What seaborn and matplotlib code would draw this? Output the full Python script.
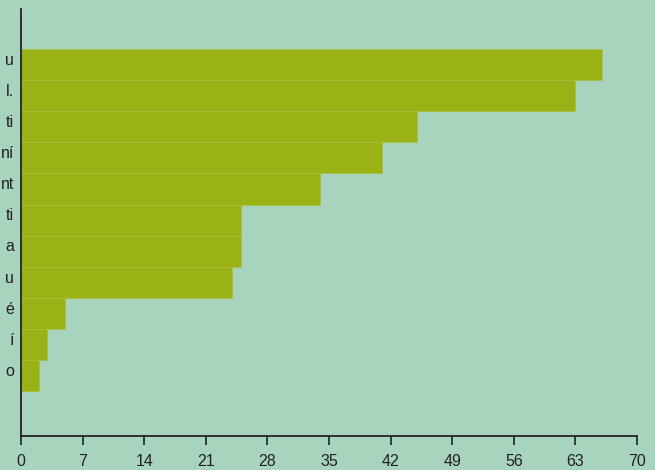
import pandas as pd
import matplotlib.pyplot as plt
import seaborn as sns

# tick labels only show their last letters in the reference (cut off at the left edge)
kategorie = ["u", "l.", "ti", "ní", "nt", "ti", "a", "u", "é", "í", "o"]
hodnoty = [66, 63, 45, 41, 34, 25, 25, 24, 5, 3, 2]
x_ticks = list(range(0, 71, 7))

sns.set_theme(style="white")
plt.rcParams["font.family"] = ["Liberation Sans", "DejaVu Sans"]

df = pd.DataFrame({"kategorie": range(len(kategorie)), "hodnota": hodnoty})

fig = plt.figure(figsize=(6.55, 4.70), dpi=100, facecolor="#a8d3bc")
ax = fig.add_axes([21 / 655, 34 / 470, 616 / 655, 427 / 470])
ax.set_facecolor("#a8d3bc")

sns.barplot(data=df, x="hodnota", y="kategorie", orient="h", width=1.0,
            color="#9bb216", saturation=1, edgecolor="#acc03e", linewidth=0.5, ax=ax)

ax.set_xlim(0, 70)
ax.set_ylim(11.93, -1.78)
ax.set_xticks(x_ticks)
ax.set_xticklabels([str(t) for t in x_ticks], fontsize=11.5, color="#222222")
# labels sit a little above the bar centres in the reference
ax.set_yticks([i - 0.19 for i in range(len(kategorie))])
ax.set_yticklabels(kategorie, fontsize=11.5, color="#222222")
ax.set_xlabel("")
ax.set_ylabel("")

ax.tick_params(axis="x", direction="out", length=6.5, width=1.2, color="#222222", pad=6.5, bottom=True)
ax.tick_params(axis="y", length=0, pad=5)

for side in ["top", "right"]:
    ax.spines[side].set_visible(False)
for side in ["left", "bottom"]:
    ax.spines[side].set_color("#222222")
    ax.spines[side].set_linewidth(1.3)

plt.savefig("out.png", dpi=100, facecolor=fig.get_facecolor())
plt.close()
